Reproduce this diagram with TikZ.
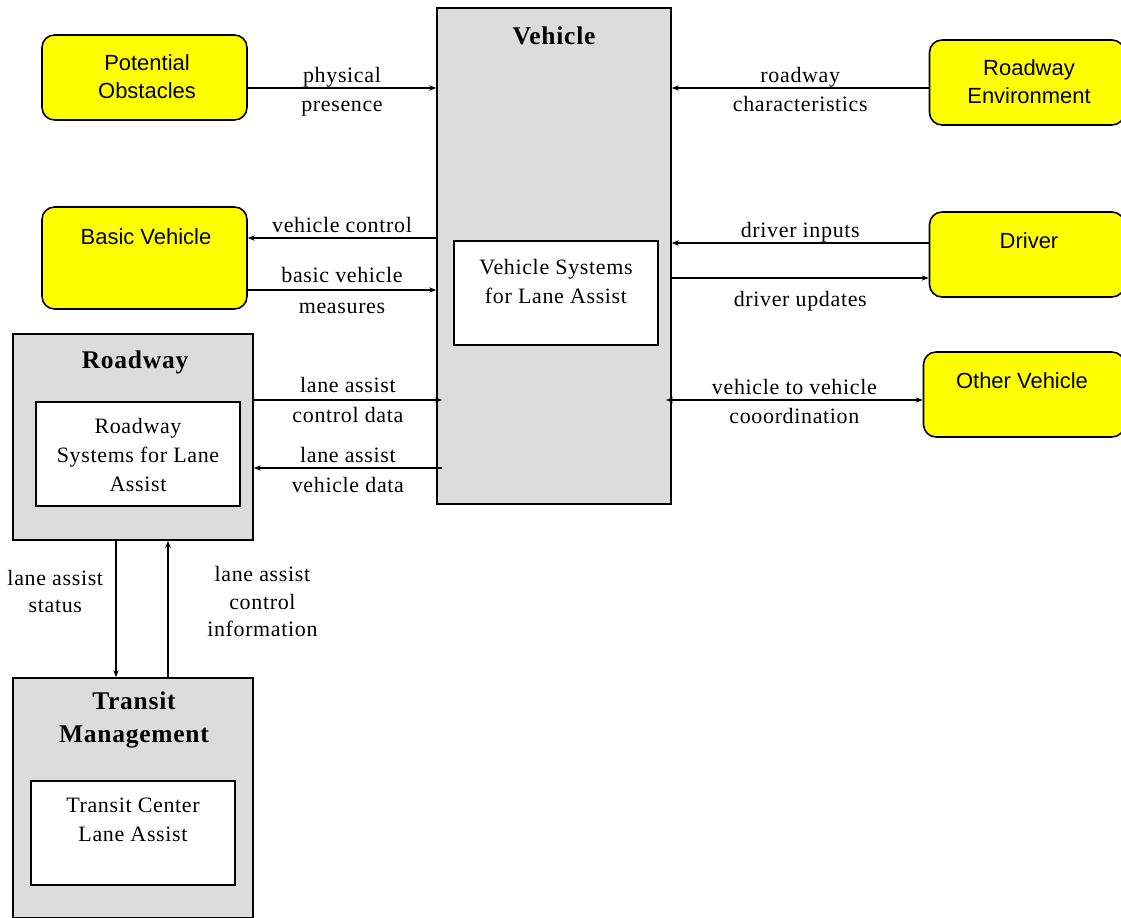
\documentclass[tikz,border=0pt]{standalone}
\usepackage{fontspec}
\setmainfont{Liberation Serif}[LetterSpace=3]
\newfontfamily\boxfont{Liberation Sans}
\usepackage{tikz}
\usetikzlibrary{arrows.meta,positioning}
\definecolor{boxgray}{RGB}{220,220,220}
\definecolor{actoryellow}{RGB}{255,255,0}
\tikzset{
    actor-box/.style = {draw=black, fill=actoryellow, line width=0.9pt, rectangle, rounded corners=0.25cm, minimum width=4.1cm, minimum height=1.7cm},
    actor-text/.style = {font=\boxfont\fontsize{12.5}{16}\selectfont, align=center},
    system-box/.style = {draw=black, fill=boxgray, line width=0.9pt, rectangle},
    system-title/.style = {font=\bfseries\fontsize{14.5}{19}\selectfont, align=center},
    inner-box/.style = {draw=black, fill=white, line width=0.9pt, rectangle, minimum width=4.08cm, minimum height=2.08cm},
    inner-text/.style = {font=\fontsize{12.5}{16.5}\selectfont, align=center},
    flow/.style = {line width=0.7pt, -{Stealth[length=4pt,width=3pt]}},
    flow-label/.style = {font=\fontsize{12.5}{16}\selectfont, align=center, inner sep=1pt, text height=8.5pt, text depth=2pt},
    flow-label-v/.style = {font=\fontsize{12.5}{15.5}\selectfont, align=center, inner sep=1pt},
}
\begin{document}
\begin{tikzpicture}[x=0.02cm, y=-0.02cm]
\useasboundingbox (0,0) rectangle (1121,918);

% vehicle
\node [system-box, minimum width=4.68cm, minimum height=9.92cm] (veh) at (554,256) {};
\node [system-title] (veh-title) at (554,36) {Vehicle};
\node [inner-box] (veh-sys) at (556,293) {};
\node [inner-text] at (556,281) {Vehicle Systems\\for Lane Assist};

% roadway
\node [system-box, minimum width=4.8cm, minimum height=4.12cm] (road) at (133,437) {};
\node [system-title] (road-title) at (135,362) {Roadway};
\node [inner-box] (road-sys) at (138,454) {};
\node [inner-text] at (138,455) {Roadway\\Systems for Lane\\Assist};

% transit management
\node [system-box, minimum width=4.8cm, minimum height=4.8cm] (tm) at (133,798) {};
\node [system-title] (tm-title) at (134,720) {Transit\\Management};
\node [inner-box] (tm-sys) at (133,833) {};
\node [inner-text] at (133,820) {Transit Center\\Lane Assist};

% terminators
\node [actor-box] (obst) at (144.5,77.5) {};
\node [actor-text] at (147,77) {Potential\\Obstacles};
\node [actor-box, minimum height=2.04cm] (basic) at (144.5,258) {};
\node [actor-text] at (146,237) {Basic Vehicle};
\node [actor-box, minimum width=3.9cm] (env) at (1027,82.5) {};
\node [actor-text] at (1029,82) {Roadway\\Environment};
\node [actor-box, minimum width=3.9cm] (drv) at (1027,254.5) {};
\node [actor-text] at (1029,241) {Driver};
\node [actor-box, minimum width=4.02cm] (other) at (1024,394.5) {};
\node [actor-text] at (1022,381) {Other Vehicle};

% flows
\draw [flow] (obst.east |- 0,88) -- node[flow-label, above] {physical} node[flow-label, below=3.5pt] {presence} (veh.west |- 0,88);
\draw [flow] (env.west |- 0,88) -- node[flow-label, above] {roadway} node[flow-label, below=3.5pt] {characteristics} (veh.east |- 0,88);
\draw [flow] (veh.west |- 0,238) -- node[flow-label, above] {vehicle control} (basic.east |- 0,238);
\draw [flow] (basic.east |- 0,290) -- node[flow-label, above=1pt] {basic vehicle} node[flow-label, below=3.5pt] {measures} (veh.west |- 0,290);
\draw [flow] (drv.west |- 0,243) -- node[flow-label, above] {driver inputs} (veh.east |- 0,243);
\draw [flow] (veh.east |- 0,278) -- node[flow-label, below=6.5pt] {driver updates} (drv.west |- 0,278);
\draw [flow, {Stealth[length=4pt,width=3pt]}-{Stealth[length=4pt,width=3pt]}] (666,400) -- node[flow-label, above] {vehicle to vehicle} node[flow-label, below=3.5pt] {cooordination} (other.west |- 0,400);
\draw [flow] (road.east |- 0,400) -- node[flow-label, above=1pt] {lane assist} node[flow-label, below=3pt] {control data} (442,400);
\draw [flow] (442,468) -- node[flow-label, above] {lane assist} node[flow-label, below=4pt] {vehicle data} (road.east |- 0,468);
\draw [flow] (road.south -| 116,0) -- node[flow-label-v, left=6pt, pos=0.373] {lane assist\\status} (tm.north -| 116,0);
\draw [flow] (tm.north -| 168,0) -- node[flow-label-v, right=21pt, pos=0.554] {lane assist\\control\\information} (road.south -| 168,0);
\end{tikzpicture}
\end{document}
